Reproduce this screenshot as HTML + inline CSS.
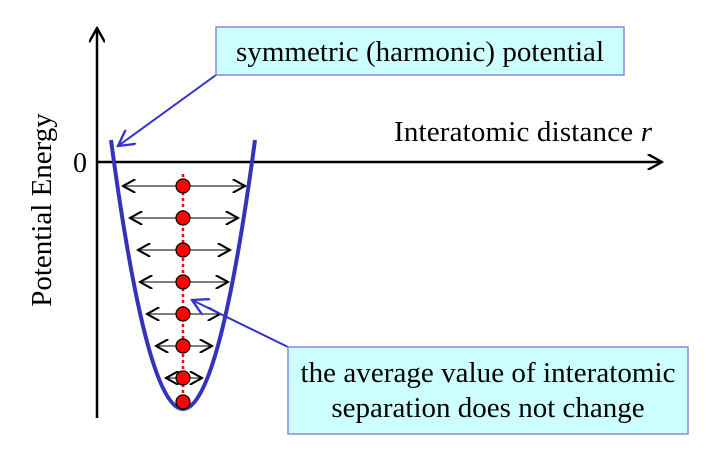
<!DOCTYPE html>
<html><head><style>body{margin:0;background:#fff}svg{display:block}</style></head>
<body>
<svg width="706" height="455" viewBox="0 0 706 455" xmlns="http://www.w3.org/2000/svg" font-family="Liberation Serif, serif">
<defs>
<marker id="oa" viewBox="0 0 10 10" refX="9" refY="5" markerWidth="14" markerHeight="14" markerUnits="userSpaceOnUse" orient="auto"><path d="M0,0 L9,5 L0,10" fill="none" stroke="#000" stroke-width="1.5"/></marker>
<marker id="ob" viewBox="0 0 10 10" refX="9" refY="5" markerWidth="16" markerHeight="16" markerUnits="userSpaceOnUse" orient="auto"><path d="M0,0 L9,5 L0,10" fill="none" stroke="#000" stroke-width="1.5"/></marker>
<marker id="ab" viewBox="0 0 10 10" refX="9" refY="5" markerWidth="18" markerHeight="18" markerUnits="userSpaceOnUse" orient="auto"><path d="M0,0 L9,5 L0,10" fill="none" stroke="#3333cc" stroke-width="1.3"/></marker>
</defs>
<line x1="97" y1="418" x2="97" y2="28" stroke="#000" stroke-width="2.5" marker-end="url(#ob)"/>
<line x1="97" y1="162" x2="662" y2="162" stroke="#000" stroke-width="2.5" marker-end="url(#ob)"/>
<text x="80" y="172" font-size="28" text-anchor="middle">0</text>
<text transform="translate(51,210) rotate(-90)" font-size="29" text-anchor="middle">Potential Energy</text>
<text x="394" y="141" font-size="29" textLength="258">Interatomic distance <tspan font-style="italic">r</tspan></text>
<line x1="183" y1="174" x2="183" y2="405" stroke="#f00" stroke-width="2.5" stroke-dasharray="3,3"/>
<g stroke="#333" stroke-width="1.3">
<line x1="183" y1="186" x2="123" y2="186" marker-end="url(#oa)"/><line x1="183" y1="186" x2="245" y2="186" marker-end="url(#oa)"/>
<line x1="183" y1="218" x2="130" y2="218" marker-end="url(#oa)"/><line x1="183" y1="218" x2="238" y2="218" marker-end="url(#oa)"/>
<line x1="183" y1="250" x2="138" y2="250" marker-end="url(#oa)"/><line x1="183" y1="250" x2="230" y2="250" marker-end="url(#oa)"/>
<line x1="183" y1="282" x2="140" y2="282" marker-end="url(#oa)"/><line x1="183" y1="282" x2="228" y2="282" marker-end="url(#oa)"/>
<line x1="183" y1="314" x2="147" y2="314" marker-end="url(#oa)"/><line x1="183" y1="314" x2="220" y2="314" marker-end="url(#oa)"/>
<line x1="183" y1="346" x2="156" y2="346" marker-end="url(#oa)"/><line x1="183" y1="346" x2="212" y2="346" marker-end="url(#oa)"/>
<line x1="183" y1="378" x2="166" y2="378" marker-end="url(#oa)"/><line x1="183" y1="378" x2="202" y2="378" marker-end="url(#oa)"/>
</g>
<path d="M111,140 Q183,678 255,140" fill="none" stroke="#3333bb" stroke-width="4"/>
<g fill="#f00" stroke="#000" stroke-width="1.2">
<circle cx="183" cy="186" r="7"/><circle cx="183" cy="218" r="7"/><circle cx="183" cy="250" r="7"/><circle cx="183" cy="282" r="7"/><circle cx="183" cy="314" r="7"/><circle cx="183" cy="346" r="7"/><circle cx="183" cy="378" r="7"/><circle cx="183" cy="402" r="7"/>
</g>
<line x1="216" y1="75" x2="118" y2="146" stroke="#3333cc" stroke-width="2" marker-end="url(#ab)"/>
<rect x="216" y="27" width="408" height="48" fill="#ccffff" stroke="#8888dd" stroke-width="1.5"/>
<text x="420" y="61" font-size="29" text-anchor="middle" textLength="368">symmetric (harmonic) potential</text>
<line x1="288" y1="347" x2="192" y2="300" stroke="#3333cc" stroke-width="2" marker-end="url(#ab)"/>
<rect x="288" y="347" width="400" height="87" fill="#ccffff" stroke="#8888dd" stroke-width="1.5"/>
<text x="488" y="382" font-size="29" text-anchor="middle" textLength="375">the average value of interatomic</text>
<text x="488" y="417" font-size="29" text-anchor="middle">separation does not change</text>
</svg>
</body></html>
